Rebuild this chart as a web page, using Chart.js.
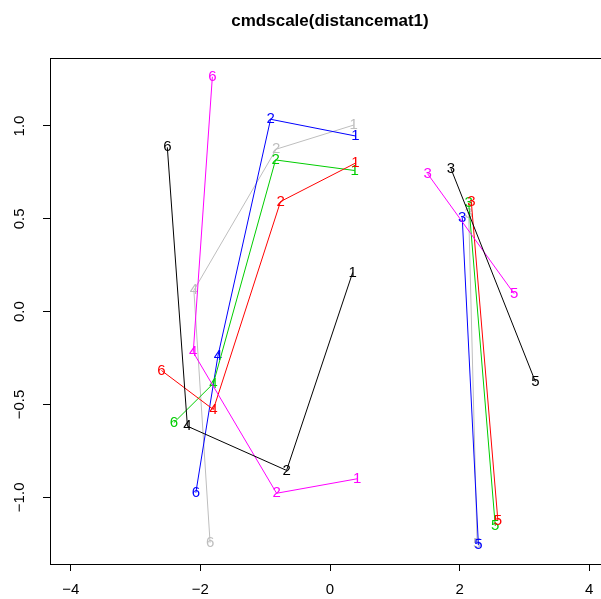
<!DOCTYPE html>
<html>
<head>
<meta charset="utf-8">
<script src="https://cdn.jsdelivr.net/npm/chart.js@4/dist/chart.umd.min.js"></script>
<style>
html,body{margin:0;padding:0;overflow:hidden;background:#fff;}
canvas{display:block;}
</style>
</head>
<body>
<canvas id="c" width="620" height="599"></canvas>
<script>
// ---- data ----
const chartTitle = "cmdscale(distancemat1)";
const pointIds = ["1", "2", "3", "4", "5", "6"];
// path orders (indices into points): 1-2-4-6 and 3-5
const pathA = [0, 1, 3, 5];
const pathB = [2, 4];

const blackX   = [0.35, -0.67, 1.867, -2.20, 3.17, -2.51];
const blackY   = [0.211, -0.855, 0.769, -0.617, -0.378, 0.885];
const redX     = [0.393, -0.763, 2.18, -1.80, 2.59, -2.60];
const redY     = [0.80, 0.593, 0.593, -0.527, -1.124, -0.317];
const greenX   = [0.38, -0.84, 2.14, -1.80, 2.55, -2.41];
const greenY   = [0.76, 0.817, 0.584, -0.387, -1.154, -0.598];
const blueX    = [0.393, -0.917, 2.04, -1.73, 2.29, -2.07];
const blueY    = [0.946, 1.036, 0.507, -0.24, -1.258, -0.975];
const magentaX = [0.42, -0.824, 1.507, -2.11, 2.84, -1.815];
const magentaY = [-0.90, -0.978, 0.742, -0.219, 0.097, 1.265];
const grayX    = [0.367, -0.83, 2.14, -2.10, 2.27, -1.85];
const grayY    = [1.005, 0.875, 0.527, 0.115, -1.253, -1.244];

const xTicks = [-4, -2, 0, 2, 4];
const xTickLabels = ["\u22124", "\u22122", "0", "2", "4"];
const yTicks = [-1.0, -0.5, 0.0, 0.5, 1.0];
const yTickLabels = ["\u22121.0", "\u22120.5", "0.0", "0.5", "1.0"];

// ---- build datasets ----
const series = [
  {x: blackX, y: blackY, color: "#000000"},
  {x: magentaX, y: magentaY, color: "#FF00FF"},
  {x: redX, y: redY, color: "#FF0000"},
  {x: greenX, y: greenY, color: "#00CD00"},
  {x: blueX, y: blueY, color: "#0000FF"},
  {x: grayX, y: grayY, color: "#BEBEBE"}
];
const datasets = [];
series.forEach(s => {
  [pathA, pathB].forEach(path => {
    datasets.push({
      data: path.map(i => ({x: s.x[i], y: s.y[i]})),
      ids: path.map(i => pointIds[i]),
      borderColor: s.color,
      backgroundColor: s.color,
      borderWidth: 1,
      showLine: true,
      pointRadius: 0,
      pointHoverRadius: 0,
      tension: 0,
      clip: false
    });
  });
});

const FONT = '"Liberation Sans", Arial, Helvetica, sans-serif';

const overlay = {
  id: "overlay",
  afterDatasetDraw(chart, args) {
    const ds = chart.data.datasets[args.index];
    const ctx = chart.ctx;
    ctx.save();
    ctx.font = "15px " + FONT;
    ctx.fillStyle = ds.borderColor;
    ctx.textAlign = "center";
    ctx.textBaseline = "middle";
    args.meta.data.forEach((el, i) => ctx.fillText(ds.ids[i], el.x, el.y));
    ctx.restore();
  },
  afterDraw(chart) {
    const ctx = chart.ctx;
    const a = chart.chartArea;
    const xs = chart.scales.x, ys = chart.scales.y;
    ctx.save();
    // box
    ctx.strokeStyle = "#000";
    ctx.lineWidth = 1;
    const l = Math.round(a.left) + 0.5, t = Math.round(a.top) + 0.5;
    const r = Math.round(a.right) + 0.5, b = Math.round(a.bottom) + 0.5;
    ctx.strokeRect(l, t, r - l, b - t);
    // tick labels
    ctx.fillStyle = "#000";
    ctx.font = "15px " + FONT;
    ctx.textAlign = "center";
    ctx.textBaseline = "middle";
    xTicks.forEach((v, i) => ctx.fillText(xTickLabels[i], xs.getPixelForValue(v), 590));
    yTicks.forEach((v, i) => {
      ctx.save();
      ctx.translate(20, ys.getPixelForValue(v));
      ctx.rotate(-Math.PI / 2);
      ctx.fillText(yTickLabels[i], 0, 0);
      ctx.restore();
    });
    // title
    ctx.font = "bold 17px " + FONT;
    ctx.fillText(chartTitle, (a.left + a.right) / 2, 21);
    ctx.restore();
  }
};

new Chart(document.getElementById("c"), {
  type: "scatter",
  data: {datasets},
  options: {
    responsive: false,
    animation: false,
    devicePixelRatio: 1,
    layout: {padding: {top: 58, right: 10, left: 0, bottom: 0}},
    plugins: {legend: {display: false}, tooltip: {enabled: false}, title: {display: false}},
    events: [],
    scales: {
      x: {
        type: "linear",
        min: -4.32, max: 4.32,
        afterBuildTicks: s => { s.ticks = xTicks.map(v => ({value: v})); },
        afterFit: s => { s.height = 35; },
        ticks: {display: false},
        grid: {drawOnChartArea: false, drawTicks: true, tickLength: 7, color: "#000", lineWidth: 1},
        border: {display: true, color: "#000", width: 1}
      },
      y: {
        type: "linear",
        min: -1.359, max: 1.366,
        afterBuildTicks: s => { s.ticks = yTicks.map(v => ({value: v})); },
        afterFit: s => { s.width = 50; },
        ticks: {display: false},
        grid: {drawOnChartArea: false, drawTicks: true, tickLength: 7, color: "#000", lineWidth: 1},
        border: {display: true, color: "#000", width: 1}
      }
    }
  },
  plugins: [overlay]
});
</script>
</body>
</html>
